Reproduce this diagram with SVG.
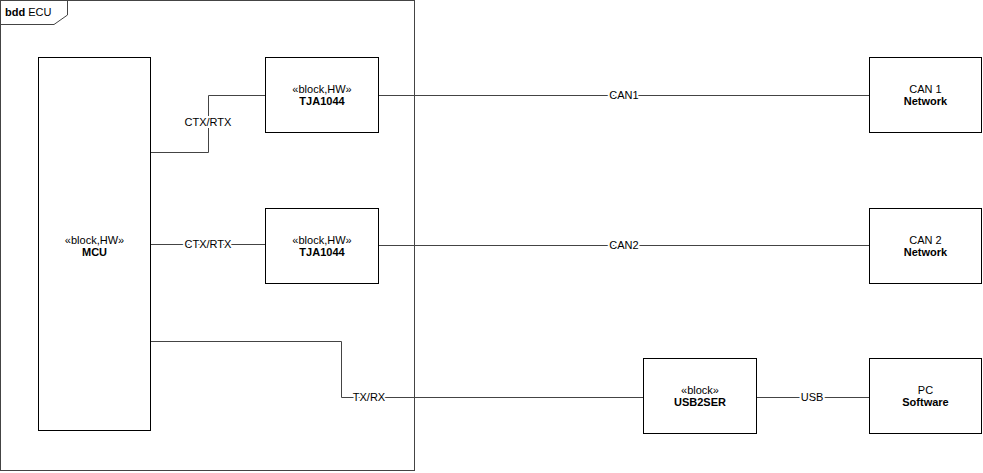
<svg xmlns="http://www.w3.org/2000/svg" width="983" height="473" viewBox="0 0 983 473">
<style>
text{font-family:"Liberation Sans",Arial,sans-serif;font-size:11px;fill:#000}
.b{font-weight:bold}
.box{fill:#fff;stroke:#000;stroke-width:1}
.c{fill:none;stroke:#444;stroke-width:1}
.lbl{text-anchor:middle;stroke:#fff;stroke-width:4;paint-order:stroke}
.m{text-anchor:middle}
</style>
<rect width="983" height="473" fill="#fff"/>
<g id="frame">
<rect x="0.5" y="0.5" width="414" height="470" fill="none" stroke="#444"/>
<path d="M0.5 24.5 H54 L67.5 15 V0.5" fill="none" stroke="#444"/>
<text x="5" y="16"><tspan class="b">bdd</tspan> ECU</text>
</g>
<g id="connectors">
<path class="c" d="M150 152.5 H208.5 V95.5 H265"/>
<text class="lbl" x="208" y="126">CTX/RTX</text>
<path class="c" d="M150 244.5 H265"/>
<text class="lbl" x="208" y="248">CTX/RTX</text>
<path class="c" d="M378 95.5 H869"/>
<text class="lbl" x="624" y="99">CAN1</text>
<path class="c" d="M378 245.5 H869"/>
<text class="lbl" x="624" y="249">CAN2</text>
<path class="c" d="M150 341.5 H341.5 V397.5 H643"/>
<text class="lbl" x="369" y="401">TX/RX</text>
<path class="c" d="M756 397.5 H869"/>
<text class="lbl" x="812" y="401">USB</text>
</g>
<g id="MCU">
<rect class="box" x="38.5" y="57.5" width="112" height="373"/>
<text class="m" x="94.5" y="244">«block,HW»</text>
<text class="m b" x="94.5" y="256">MCU</text>
</g>
<g id="TJA1044_1">
<rect class="box" x="265.5" y="57.5" width="113" height="75"/>
<text class="m" x="322" y="93">«block,HW»</text>
<text class="m b" x="322" y="105">TJA1044</text>
</g>
<g id="TJA1044_2">
<rect class="box" x="265.5" y="208.5" width="113" height="75"/>
<text class="m" x="322" y="244">«block,HW»</text>
<text class="m b" x="322" y="256">TJA1044</text>
</g>
<g id="CAN1">
<rect class="box" x="869.5" y="57.5" width="112" height="75"/>
<text class="m" x="925.5" y="93">CAN 1</text>
<text class="m b" x="925.5" y="105">Network</text>
</g>
<g id="CAN2">
<rect class="box" x="869.5" y="208.5" width="112" height="75"/>
<text class="m" x="925.5" y="244">CAN 2</text>
<text class="m b" x="925.5" y="256">Network</text>
</g>
<g id="USB2SER">
<rect class="box" x="643.5" y="358.5" width="113" height="75"/>
<text class="m" x="700" y="394">«block»</text>
<text class="m b" x="700" y="406">USB2SER</text>
</g>
<g id="PC">
<rect class="box" x="869.5" y="358.5" width="112" height="75"/>
<text class="m" x="925.5" y="394">PC</text>
<text class="m b" x="925.5" y="406">Software</text>
</g>
</svg>
